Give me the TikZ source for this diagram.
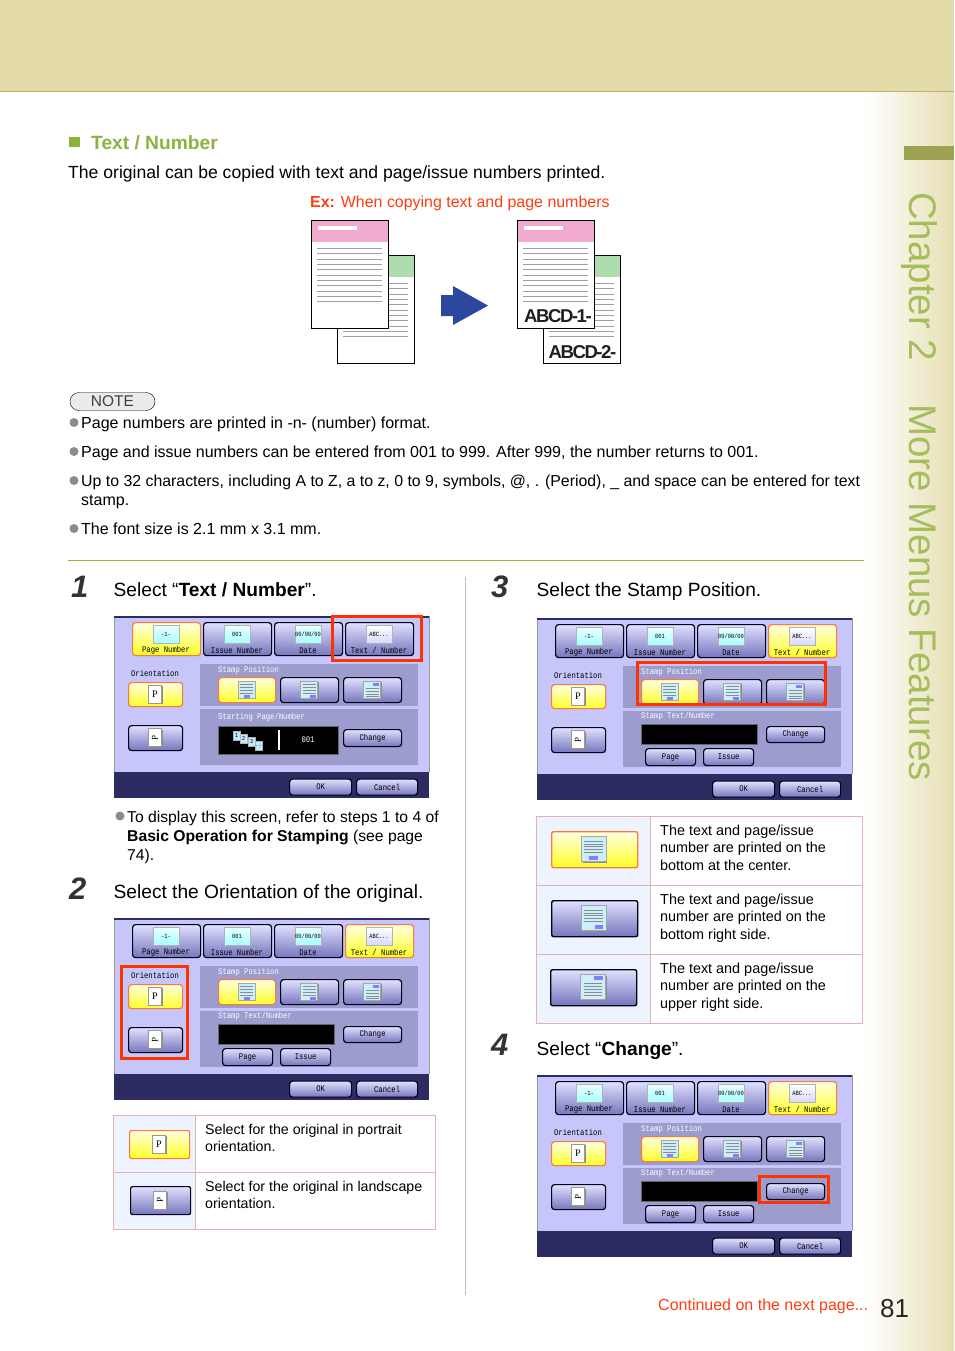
\documentclass[tikz,border=0pt]{standalone}
\usepackage{fontspec}
\setmainfont{Liberation Sans}
\newfontfamily\scrfont[FakeStretch=0.84]{Liberation Mono}
\newfontfamily\stampfont[LetterSpace=-8]{Liberation Sans}
\newfontfamily\letterfont{Liberation Serif}
\definecolor{BandTan}{HTML}{E3DBAA}
\definecolor{BandLine}{HTML}{C8AE6E}
\definecolor{TabOlive}{HTML}{9EA255}
\definecolor{TitleGreen}{HTML}{8DB33F}
\definecolor{ChapterGreen}{HTML}{A5BE5C}
\definecolor{AlertRed}{HTML}{FF3D10}
\definecolor{BoxRed}{HTML}{FF3300}
\definecolor{SelOrange}{HTML}{FF7838}
\definecolor{ScreenBack}{HTML}{C6C6FA}
\definecolor{ScreenPanel}{HTML}{9C9CCE}
\definecolor{ScreenFoot}{HTML}{2C2C62}
\definecolor{TableLine}{HTML}{E6B0B0}
\definecolor{TableBack}{HTML}{EDF4FF}
\definecolor{SheetPink}{HTML}{F2ABD0}
\definecolor{SheetGreen}{HTML}{ADDCAE}
\definecolor{ArrowBlue}{HTML}{2B479E}
\definecolor{SheetLine}{HTML}{9AA0A8}
\tikzset{
	bodytext/.style={anchor=base west, inner sep=0pt, font=\fontsize{16}{19}\selectfont},
	steptext/.style={anchor=base west, inner sep=0pt, font=\fontsize{19.15}{24}\selectfont},
	stepnum/.style={anchor=base west, inner sep=0pt, font=\fontsize{31}{34}\bfseries\itshape\selectfont, text=black!80},
	celltext/.style={anchor=north west, inner sep=0pt, align=left, font=\fontsize{14.4}{17.8}\selectfont},
	notedot/.style={circle, fill=black!45, inner sep=0pt, minimum size=9pt},
	btnplain/.style={draw=black!90!blue, line width=1.2pt, rounded corners=3pt, top color=white!88!blue, bottom color=blue!35!gray!80, inner sep=0pt},
	btnsel/.style={draw=SelOrange, line width=1.2pt, rounded corners=3pt, top color=yellow!12, bottom color=yellow!85, inner sep=0pt},
	scrlabel/.style={inner sep=0pt, font=\scrfont\fontsize{8.6}{9}\selectfont},
	tabicon/.style={draw=black!30, top color=cyan!8, bottom color=cyan!35, inner sep=0pt, minimum width=26pt, minimum height=18pt, font=\scrfont\fontsize{6.4}{7}\selectfont},
	redbox/.style={draw=BoxRed, line width=3pt},
}
% one tab of the screen
\newcommand{\screentab}[6]{
	\node[#3, anchor=north west, minimum width=68pt, minimum height=33pt] (#1) at (#2,6) {};
	\node[tabicon, #6] (#1Icon) at ({#2+34},18) {#4};
	\node[scrlabel] (#1Label) at ({#2+34},34.5) {#5};
}
% small sheet with printed lines
\newcommand{\stampicon}[4]{
	\begin{scope}[shift={(#1,#2)}, scale=#3]
		\fill[black!45] (-7.5,-7.5) rectangle (9.5,9.5);
		\fill[white!80!cyan, draw=black!35, line width=.5pt] (-8.5,-8.5) rectangle (8.5,8.5);
		\foreach \LineY in {#4}
			\draw[black!45, line width=.8pt] (-6.5,\LineY) -- (6.5,\LineY);
	\end{scope}
}
\newcommand{\stampmark}[5]{
	\begin{scope}[shift={(#1,#2)}, scale=#3]
		\fill[blue!50] (#4-3,#5-1.5) rectangle (#4+3,#5+1.5);
	\end{scope}
}
% portrait or landscape sheet with the letter
\newcommand{\sheeticon}[3]{
	\fill[black!45] ({#1-6},{#2-8}) rectangle ({#1+8},{#2+10});
	\node[draw=black!40, fill=white, inner sep=0pt, minimum width=13pt, minimum height=18pt] (#3) at (#1,#2) {};
}
% the three stamp buttons
\newcommand{\stampbtns}[1]{
	\node[btnsel, anchor=north west, minimum width=57pt, minimum height=25pt] (#1StampA) at (104,61) {};
	\node[btnplain, anchor=north west, minimum width=58pt, minimum height=25pt] (#1StampB) at (166,61) {};
	\node[btnplain, anchor=north west, minimum width=58pt, minimum height=25pt] (#1StampC) at (229,61) {};
	\stampicon{132.5}{73.5}{1}{-5,-2,1,4}
	\stampmark{132.5}{73.5}{1}{0}{6.5}
	\stampicon{195}{73.5}{1}{-5,-2,1,4}
	\stampmark{195}{73.5}{1}{3.5}{6.5}
	\stampicon{258}{73.5}{1}{-1,2,5,7}
	\stampmark{258}{73.5}{1}{3.5}{-5.5}
}
% lower panel: starting number
\newcommand{\panelstart}[1]{
	\node[scrlabel, anchor=west, text=white] (#1PanelLabel) at (104,101) {Starting Page/Number};
	\node[draw=black!60, fill=black, inner sep=0pt, anchor=north west, minimum width=120pt, minimum height=28pt] (#1Display) at (104,110) {};
	\foreach \PageX/\PageY/\PageName/\PageText in {119/115/PageA/1,126/118/PageB/2,134/121/PageC/3,141/125/PageD/..}
		\node[fill=cyan!25, draw=black!30, inner sep=0pt, anchor=north west, minimum width=7pt, minimum height=9pt, font=\scrfont\fontsize{6}{6}\selectfont] (#1\PageName) at (\PageX,\PageY) {\PageText};
	\draw[white, line width=1.5pt] (165,114) -- (165,134);
	\node[scrlabel, text=white] (#1Count) at (194,124) {001};
	\node[btnplain, anchor=north west, minimum width=58pt, minimum height=17pt] (#1Change) at (229,113) {};
	\node[scrlabel] (#1ChangeLabel) at (#1Change) {Change};
}
% lower panel: stamp text
\newcommand{\paneltext}[1]{
	\node[scrlabel, anchor=west, text=white] (#1PanelLabel) at (104,98) {Stamp Text/Number};
	\node[draw=black!60, fill=black, inner sep=0pt, anchor=north west, minimum width=116pt, minimum height=20pt] (#1Display) at (104,105.5) {};
	\node[btnplain, anchor=north west, minimum width=58pt, minimum height=16pt] (#1Change) at (229,108) {};
	\node[scrlabel] (#1ChangeLabel) at (#1Change) {Change};
	\node[btnplain, anchor=north west, minimum width=50pt, minimum height=17pt] (#1Page) at (108,130) {};
	\node[scrlabel] (#1PageLabel) at (#1Page) {Page};
	\node[btnplain, anchor=north west, minimum width=50pt, minimum height=17pt] (#1Issue) at (166,130) {};
	\node[scrlabel] (#1IssueLabel) at (#1Issue) {Issue};
}
% whole screen: name, x, y, first tab, last tab, lower panel
\newcommand{\screen}[6]{
	\begin{scope}[shift={(#2,#3)}]
		\fill[ScreenBack] (0,0) rectangle (315,182);
		\draw[black!40, line width=.8pt] (0,0) -- (0,156) (315,0) -- (315,156);
		\fill[ScreenFoot] (0,156) rectangle (315,182);
		\fill[ScreenFoot] (0,0) rectangle (315,2);
		\fill[ScreenPanel] (86,48) rectangle (304,90);
		\fill[ScreenPanel] (86,93) rectangle (304,149);
		\screentab{#1Page}{18}{#4}{-1-}{Page Number}{}
		\screentab{#1Issue}{89}{btnplain}{001}{Issue Number}{}
		\screentab{#1Date}{160}{btnplain}{00/00/00}{Date}{}
		\screentab{#1Text}{231}{#5}{ABC...}{Text / Number}{top color=white, bottom color=white!85!blue}
		\node[scrlabel] (#1Orient) at (41,57) {Orientation};
		\node[btnsel, anchor=north west, minimum width=54pt, minimum height=24pt] (#1Portrait) at (14,66) {};
		\sheeticon{41}{78}{#1SheetP}
		\node[inner sep=0pt, font=\letterfont\fontsize{10}{10}\selectfont] (#1LetterP) at (41,78) {P};
		\node[btnplain, anchor=north west, minimum width=54pt, minimum height=25pt] (#1Landscape) at (14,109) {};
		\sheeticon{41}{121.5}{#1SheetL}
		\node[inner sep=0pt, rotate=90, font=\letterfont\fontsize{9}{9}\selectfont] (#1LetterL) at (41,121.5) {P};
		\node[scrlabel, anchor=west, text=white] (#1PosLabel) at (104,54.5) {Stamp Position};
		\stampbtns{#1}
		#6{#1}
		\node[btnplain, anchor=north west, minimum width=62pt, minimum height=16pt] (#1Ok) at (175,162.5) {};
		\node[scrlabel] (#1OkLabel) at (#1Ok) {OK};
		\node[btnplain, anchor=north west, minimum width=61pt, minimum height=16pt] (#1Cancel) at (242,162.5) {};
		\node[scrlabel] (#1CancelLabel) at (#1Cancel) {Cancel};
	\end{scope}
}
% printed sheet of the example
\newcommand{\papersheet}[4]{
	\node[draw=black, fill=white, line width=1pt, inner sep=0pt, anchor=north west, minimum width=77pt, minimum height=108pt] (#4) at (#1,#2) {};
	\fill[#3] ({#1+.5},{#2+.5}) rectangle ({#1+76.5},{#2+21.5});
	\fill[white] ({#1+7},{#2+6}) rectangle ({#1+46},{#2+10});
	\foreach \i in {0,...,10}
		\draw[SheetLine] ({#1+6},{#2+28.3+5.3*\i}) -- ({#1+71},{#2+28.3+5.3*\i});
}
\begin{document}
\begin{tikzpicture}[x=1pt, y=-1pt]
	\useasboundingbox (0,0) rectangle (954,1351);
	% Page furniture
	\fill[white] (0,0) rectangle (954,1351);
	\shade[left color=white, right color=BandTan!90!white] (866,92) rectangle (954,1351);
	\fill[BandTan] (0,0) rectangle (954,91);
	\draw[BandLine, line width=1.2pt] (0,91.5) -- (954,91.5);
	\fill[TabOlive] (904,146) rectangle (954,160);
	\node[anchor=base west, inner sep=0pt, rotate=-90, text=ChapterGreen, font=\fontsize{38.5}{40}\selectfont] (Chapter) at (909,192) {Chapter 2};
	\node[anchor=base west, inner sep=0pt, rotate=-90, text=ChapterGreen, font=\fontsize{38.5}{40}\selectfont] (MoreMenus) at (909,404) {More Menus Features};
	% Heading
	\fill[TitleGreen] (69,137) rectangle (80,147);
	\node[anchor=base west, inner sep=0pt, text=TitleGreen, font=\fontsize{19.2}{22}\bfseries\selectfont] (Title) at (91,150) {Text / Number};
	\node[bodytext, font=\fontsize{17.6}{20}\selectfont] (Intro) at (68,178.5) {The original can be copied with text and page/issue numbers printed.};
	\node[anchor=base west, inner sep=0pt, text=AlertRed, font=\fontsize{15.95}{18}\selectfont] (Example) at (310,207.5) {\textbf{Ex:} When copying text and page numbers};
	% Sample sheets
	\papersheet{337}{255}{SheetGreen}{BackLeft}
	\papersheet{311}{220}{SheetPink}{FrontLeft}
	\fill[ArrowBlue] (441,295) -- (453,295) -- (453,286) -- (488,305.6) -- (453,325) -- (453,316) -- (441,316) -- cycle;
	\papersheet{543}{255}{SheetGreen}{BackRight}
	\papersheet{517}{220}{SheetPink}{FrontRight}
	\node[anchor=base west, inner sep=0pt, text=black!88, font=\stampfont\fontsize{18.6}{20}\bfseries\selectfont] (StampOne) at (524,322) {ABCD-1-};
	\node[anchor=base west, inner sep=0pt, text=black!88, font=\stampfont\fontsize{18.6}{20}\bfseries\selectfont] (StampTwo) at (548.5,358) {ABCD-2-};
	% Note
	\node[draw=black, fill=black!8, rounded corners=9pt, minimum width=85pt, minimum height=18pt, inner sep=0pt, text=black!75, font=\fontsize{15.5}{18}\selectfont] (Note) at (112.5,401.5) {NOTE};
	\foreach \DotY/\DotName in {422.5/DotA,451.5/DotB,480.5/DotC,528.5/DotD}
		\node[notedot] (\DotName) at (74,\DotY) {};
	\node[bodytext] (NoteA) at (81,428.5) {Page numbers are printed in -n- (number) format.};
	\node[bodytext] (NoteB) at (81,457.5) {Page and issue numbers can be entered from 001 to 999. After 999, the number returns to 001.};
	\node[bodytext, font=\fontsize{15.87}{19}\selectfont] (NoteC) at (81,486.5) {Up to 32 characters, including A to Z, a to z, 0 to 9, symbols, @, . (Period), \_ and space can be entered for text};
	\node[bodytext] (NoteCc) at (81,505.5) {stamp.};
	\node[bodytext] (NoteD) at (81,534.5) {The font size is 2.1 mm x 3.1 mm.};
	\draw[olive!70!white] (68,560.5) -- (864,560.5);
	\draw[black!25] (465.5,577) -- (465.5,1295);
	% Left column
	\node[stepnum] (NumOne) at (71,597) {1};
	\node[steptext] (StepOne) at (113.5,596) {Select “\textbf{Text / Number}”.};
	\screen{ScrA}{114}{616}{btnsel}{btnplain}{\panelstart}
	\draw[redbox] (332.5,616.5) rectangle (421.5,660.5);
	\node[notedot] (DotE) at (120,816) {};
	\node[bodytext, font=\fontsize{15.7}{19}\selectfont] (HintA) at (127,822) {To display this screen, refer to steps 1 to 4 of};
	\node[bodytext, font=\fontsize{15.7}{19}\selectfont] (HintB) at (127,841) {\textbf{Basic Operation for Stamping} (see page};
	\node[bodytext, font=\fontsize{15.7}{19}\selectfont] (HintC) at (127,860) {74).};
	\node[stepnum] (NumTwo) at (69,899) {2};
	\node[steptext] (StepTwo) at (113.5,898) {Select the Orientation of the original.};
	\screen{ScrB}{114}{918}{btnplain}{btnsel}{\paneltext}
	\draw[redbox] (121.5,966.5) rectangle (187.5,1058);
	% Orientation table
	\fill[TableBack] (113.5,1115.5) rectangle (195.5,1229.5);
	\draw[TableLine] (113.5,1115.5) rectangle (435.5,1229.5);
	\draw[TableLine] (113.5,1172.5) -- (435.5,1172.5);
	\draw[TableLine] (195.5,1115.5) -- (195.5,1229.5);
	\node[btnsel, rounded corners=2pt, anchor=north west, minimum width=60pt, minimum height=28pt] (RowPortrait) at (129,1130) {};
	\sheeticon{159}{1144}{RowSheetP}
	\node[inner sep=0pt, font=\letterfont\fontsize{10}{10}\selectfont] (RowLetterP) at (159,1144) {P};
	\node[btnplain, rounded corners=2pt, anchor=north west, minimum width=60pt, minimum height=28pt] (RowLandscape) at (130,1186) {};
	\sheeticon{160}{1200}{RowSheetL}
	\node[inner sep=0pt, rotate=90, font=\letterfont\fontsize{9}{9}\selectfont] (RowLetterL) at (160,1200) {P};
	\node[celltext, font=\fontsize{14.2}{17}\selectfont] (CellPortrait) at (205,1124) {Select for the original in portrait\\orientation.};
	\node[celltext, font=\fontsize{14.2}{17}\selectfont] (CellLandscape) at (205,1181) {Select for the original in landscape\\orientation.};
	% Right column
	\node[stepnum] (NumThree) at (491,597) {3};
	\node[steptext] (StepThree) at (536.5,596) {Select the Stamp Position.};
	\screen{ScrC}{537}{618}{btnplain}{btnsel}{\paneltext}
	\draw[redbox] (637.5,662.5) rectangle (825.5,704.5);
	% Position table
	\fill[TableBack] (536.5,816.5) rectangle (650.5,1023.5);
	\draw[TableLine] (536.5,816.5) rectangle (862.5,1023.5);
	\foreach \RowY in {885.5,954.5}
		\draw[TableLine] (536.5,\RowY) -- (862.5,\RowY);
	\draw[TableLine] (650.5,816.5) -- (650.5,1023.5);
	\node[btnsel, line width=1.4pt, rounded corners=2pt, anchor=north west, minimum width=86pt, minimum height=36pt] (RowCenter) at (551,831) {};
	\node[btnplain, line width=1.4pt, rounded corners=2pt, anchor=north west, minimum width=86pt, minimum height=36pt] (RowRight) at (551,900) {};
	\node[btnplain, line width=1.4pt, rounded corners=2pt, anchor=north west, minimum width=86pt, minimum height=36pt] (RowUpper) at (550,969) {};
	\stampicon{593.5}{849}{1.45}{-5.5,-3.5,-1.5,.5,2.5}
	\stampmark{593.5}{849}{1.45}{0}{6.2}
	\stampicon{593.5}{918}{1.45}{-5.5,-3.5,-1.5,.5,2.5}
	\stampmark{593.5}{918}{1.45}{3.8}{6.2}
	\stampicon{593}{987}{1.45}{-2.5,-.5,1.5,3.5,5.5}
	\stampmark{593}{987}{1.45}{3.8}{-6.2}
	\node[celltext] (CellCenter) at (660,824.5) {The text and page/issue\\number are printed on the\\bottom at the center.};
	\node[celltext] (CellRight) at (660,893.5) {The text and page/issue\\number are printed on the\\bottom right side.};
	\node[celltext] (CellUpper) at (660,962.5) {The text and page/issue\\number are printed on the\\upper right side.};
	\node[stepnum] (NumFour) at (491,1055) {4};
	\node[steptext] (StepFour) at (536.5,1055) {Select “\textbf{Change}”.};
	\screen{ScrD}{537}{1075}{btnplain}{btnsel}{\paneltext}
	\draw[redbox] (759,1176.5) rectangle (828.5,1202);
	% Footer
	\node[anchor=base west, inner sep=0pt, text=AlertRed, font=\fontsize{16}{18}\selectfont] (Continued) at (658,1310) {Continued on the next page...};
	\node[anchor=base west, inner sep=0pt, text=black!85, font=\fontsize{26}{30}\selectfont] (PageNum) at (880,1317.5) {81};
\end{tikzpicture}
\end{document}
